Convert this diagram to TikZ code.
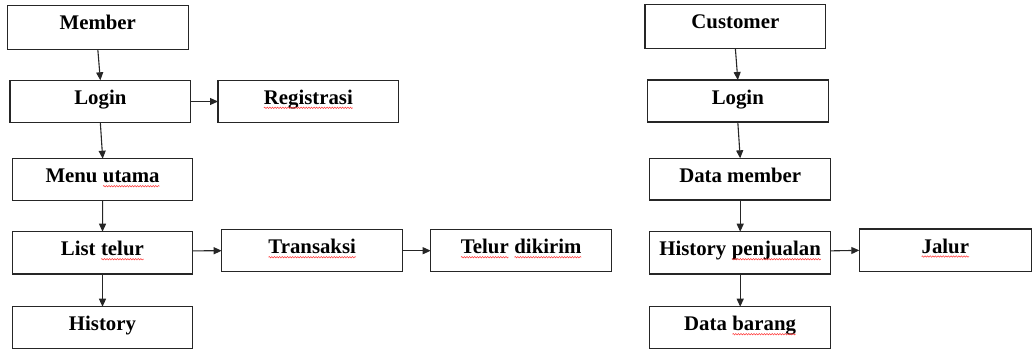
\documentclass[tikz,border=0pt]{standalone}
\usepackage{fontspec}
\setmainfont{Liberation Serif}
\usetikzlibrary{arrows.meta,decorations.pathmorphing}
\newcommand\boxfont{\bfseries\fontsize{20.8}{23}\selectfont}
\newcommand\squig[1]{\tikz[baseline=(sq.base)]{\node[inner sep=0pt,outer sep=0pt,draw=none,anchor=base,minimum width=0pt,minimum height=0pt,text height=,text depth=,align=none,font=\boxfont] (sq) at (0,0) {#1};\draw[red!80,line width=0.5pt,decorate,decoration={snake,amplitude=0.7pt,segment length=2.6pt}]([yshift=-3.5pt]sq.base west)--([yshift=-3.5pt]sq.base east);}}
\tikzset{
  box/.style={draw=black!85, line width=1.3pt, inner sep=0pt, outer sep=0pt,
    anchor=north west, text height=24pt, font=\boxfont},
  arr/.style={draw=black!85, line width=1.1pt, -{Triangle[length=8pt,width=7pt]}}
}
\begin{document}
\begin{tikzpicture}[x=1pt,y=-1pt]
\useasboundingbox (0,0) rectangle (1032,349);
% left column
\node[box, minimum width=181pt, text depth=19.6pt] (member) at (7.3,5.7) {Member};
\node[box, minimum width=180.7pt, text depth=18.4pt] (login) at (10,80.3) {Login};
\node[box, minimum width=180.7pt, text depth=18.4pt] (reg) at (218,80.3) {\squig{Registrasi}};
\node[box, minimum width=180pt, text depth=18pt] (menu) at (12.7,158.7) {Menu \squig{utama}};
\node[box, minimum width=180.4pt, text depth=18.3pt] (list) at (12.3,231.7) {List \squig{telur}};
\node[box, minimum width=181pt, text depth=18pt] (trans) at (221.7,229.7) {\squig{Transaksi}};
\node[box, minimum width=181pt, text depth=18pt] (telur) at (430.7,229.7) {\squig{Telur} \squig{dikirim}};
\node[box, minimum width=180.4pt, text depth=17.6pt] (hist) at (12.3,306.7) {History};
% right column
\node[box, minimum width=180.7pt, text depth=19.6pt] (cust) at (645,4.7) {Customer};
\node[box, minimum width=181pt, text depth=18pt] (login2) at (647.3,80) {Login};
\node[box, minimum width=181pt, text depth=17.7pt] (dmem) at (649.7,158.3) {Data member};
\node[box, minimum width=181pt, text depth=18.3pt] (hpen) at (649.7,231.7) {History \squig{penjualan}};
\node[box, minimum width=172pt, text depth=18.7pt] (jalur) at (859.3,229) {\squig{Jalur}};
\node[box, minimum width=181pt, text depth=17.6pt] (dbar) at (649.7,306.7) {Data \squig{barang}};
% connectors
\draw[arr] (member.south) -- (login.north);
\draw[arr] (login.east) -- (reg.west);
\draw[arr] (login.south) -- (menu.north);
\draw[arr] (menu.south) -- (list.north);
\draw[arr] ([yshift=2pt]list.east) -- (trans.west);
\draw[arr] (trans.east) -- (telur.west);
\draw[arr] (list.south) -- (hist.north);
\draw[arr] (cust.south) -- (login2.north);
\draw[arr] (login2.south) -- (dmem.north);
\draw[arr] (dmem.south) -- (hpen.north);
\draw[arr] ([yshift=2pt]hpen.east) -- (jalur.west);
\draw[arr] (hpen.south) -- (dbar.north);
\end{tikzpicture}
\end{document}
